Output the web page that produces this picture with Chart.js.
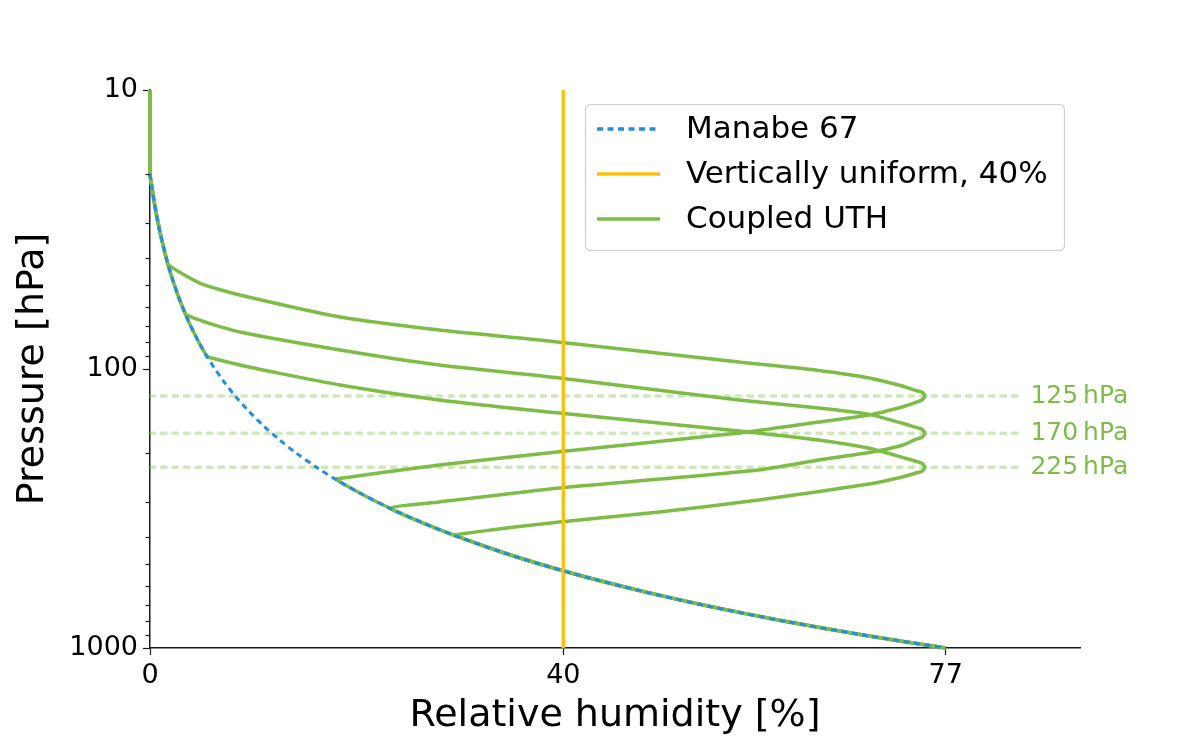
<!DOCTYPE html>
<html lang="en">
<head>
    <meta charset="UTF-8">
    <title>Relative humidity profiles</title>
    <script src="https://cdn.jsdelivr.net/npm/chart.js"></script>
    <style>
        html, body {
            margin: 0;
            padding: 0;
            background: #ffffff;
        }
        .chart-container {
            position: relative;
            width: 1200px;
            height: 741px;
        }
    </style>
</head>
<body>

<div class="chart-container">
    <canvas id="rhChart"></canvas>
</div>

<script>
    // Manabe 67 profile: pressure (hPa) and relative humidity (%)
    const manabeP  = [20, 22, 25, 28, 32, 36, 40, 45, 50, 56, 63, 70, 80, 90, 100, 112, 125, 140, 160, 180,
                      200, 225, 250, 280, 315, 355, 400, 450, 500, 560, 630, 710, 800, 900, 1000];
    const manabeRH = [0, 0.16, 0.39, 0.63, 0.94, 1.26, 1.57, 1.96, 2.36, 2.83, 3.38, 3.93, 4.71, 5.5, 6.29, 7.23, 8.25, 9.43, 11.0, 12.57,
                      14.14, 16.11, 18.07, 20.43, 23.18, 26.32, 29.86, 33.79, 37.71, 42.43, 47.93, 54.21, 61.29, 69.14, 77];

    // Coupled UTH: the part of each profile that leaves the Manabe curve
    const uth125P  = [42.4, 49.2, 54.3, 65.1, 72.5, 78.7, 94.4, 101.2, 107.7, 115.1, 119.4, 120.9, 125, 129.1, 131.8, 136.8, 146.2, 154.9, 169.6, 197.9, 220.8, 248];
    const uth125RH = [1.8, 4.8, 8.7, 18.4, 28.0, 37.7, 57.0, 64.7, 69.6, 72.8, 74.1, 74.7, 75.0, 74.7, 74.1, 72.8, 69.6, 64.7, 57.0, 39.6, 28.0, 18.0];

    const uth170P  = [64.0, 67.8, 73.7, 85.5, 96.8, 107.7, 129.1, 138.0, 145.4, 156.5, 161.8, 164.5, 170, 175.7, 178.6, 187.7, 198.4, 211.9, 230.0, 267.0, 299.7, 315];
    const uth170RH = [3.5, 5.3, 8.7, 18.4, 28.0, 39.6, 57.0, 64.7, 69.6, 72.8, 74.1, 74.7, 75.0, 74.7, 74.1, 72.8, 69.9, 64.7, 58.9, 39.6, 28.0, 23.3];

    const uth225P  = [90.6, 96.8, 102.5, 114.1, 129.1, 143.8, 166.8, 179.7, 192.4, 207.3, 214.2, 217.8, 225, 232.7, 236.0, 243.8, 258.4, 294.8, 325.4, 353.4, 393.6];
    const uth225RH = [5.6, 8.7, 11.9, 18.4, 28.0, 39.6, 57.0, 64.7, 69.6, 72.8, 74.1, 74.7, 75.0, 74.7, 74.1, 72.8, 69.6, 58.9, 49.3, 39.6, 29.4];

    const uniformRH = 40;
    const peakLevels = [125, 170, 225];
    const peakLabels = ['125\u2009hPa', '170\u2009hPa', '225\u2009hPa'];
    const refLineEnd = 84;     // RH where the dashed level lines stop
    const refLabelAt = 85.2;   // RH where the level labels start

    const xTicks = [0, 40, 77];
    const yMajor = [10, 100, 1000];
    const yMinor = [20, 30, 40, 50, 60, 70, 80, 90, 200, 300, 400, 500, 600, 700, 800, 900];

    const GREEN = '#7dbd45';
    const GREEN_LIGHT = 'rgba(125, 189, 69, 0.36)';
    const BLUE = '#1f8fe6';
    const YELLOW = '#ffc107';
    const FONT = "'DejaVu Sans', sans-serif";

    function toPoints(ps, rhs) {
        return ps.map((p, i) => ({ x: rhs[i], y: p }));
    }

    // full coupled profile = Manabe above and below the bulge
    function coupledProfile(ps, rhs) {
        const top = ps[0], bottom = ps[ps.length - 1];
        const pts = [{ x: 0, y: 10 }];
        manabeP.forEach((p, i) => { if (p < top) pts.push({ x: manabeRH[i], y: p }); });
        pts.push(...toPoints(ps, rhs));
        manabeP.forEach((p, i) => { if (p > bottom) pts.push({ x: manabeRH[i], y: p }); });
        return pts;
    }

    const greenLine = pts => ({
        data: pts, borderColor: GREEN, borderWidth: 3.5, pointRadius: 0, tension: 0.2, clip: false
    });

    const datasets = [
        {
            label: 'Manabe 67',
            data: toPoints(manabeP, manabeRH),
            borderColor: BLUE, borderWidth: 3, borderDash: [6, 4.5],
            pointRadius: 0, tension: 0.3, clip: false
        },
        {
            label: 'Vertically uniform, 40%',
            data: [{ x: uniformRH, y: 10 }, { x: uniformRH, y: 1000 }],
            borderColor: YELLOW, borderWidth: 3.5, pointRadius: 0, clip: false
        },
        greenLine(coupledProfile(uth125P, uth125RH)),
        greenLine(coupledProfile(uth170P, uth170RH)),
        greenLine(coupledProfile(uth225P, uth225RH))
    ];
    peakLevels.forEach(p => {
        datasets.push({
            data: [{ x: 0, y: p }, { x: refLineEnd, y: p }],
            borderColor: GREEN_LIGHT, borderWidth: 3.5, borderDash: [4.5, 7], borderCapStyle: 'round',
            pointRadius: 0, clip: false
        });
    });

    const legendItems = [
        { text: 'Manabe 67', color: BLUE, dash: [6, 4.5] },
        { text: 'Vertically uniform, 40%', color: YELLOW, dash: [] },
        { text: 'Coupled UTH', color: GREEN, dash: [] }
    ];

    // minor ticks, level labels and the legend box
    const extras = {
        id: 'extras',
        afterDraw(chart) {
            const ctx = chart.ctx;
            const xs = chart.scales.x, ys = chart.scales.y;
            ctx.save();

            ctx.strokeStyle = '#1a1a1a';
            ctx.lineWidth = 1.2;
            yMinor.forEach(v => {
                const py = Math.round(ys.getPixelForValue(v)) + 0.5;
                ctx.beginPath();
                ctx.moveTo(xs.left - 4.5, py);
                ctx.lineTo(xs.left, py);
                ctx.stroke();
            });

            ctx.fillStyle = GREEN;
            ctx.font = '25px ' + FONT;
            ctx.textBaseline = 'middle';
            ctx.textAlign = 'left';
            peakLevels.forEach((p, i) => {
                ctx.fillText(peakLabels[i], xs.getPixelForValue(refLabelAt), ys.getPixelForValue(p));
            });

            const bx = 585, by = 104, bw = 479, bh = 146;
            ctx.beginPath();
            ctx.roundRect(bx + 0.5, by + 0.5, bw, bh, 5);
            ctx.fillStyle = 'rgba(255,255,255,0.85)';
            ctx.fill();
            ctx.strokeStyle = '#d0d0d0';
            ctx.lineWidth = 1.2;
            ctx.stroke();

            ctx.font = '31px ' + FONT;
            legendItems.forEach((item, i) => {
                const ly = 129 + i * 45;
                ctx.beginPath();
                ctx.setLineDash(item.dash);
                ctx.strokeStyle = item.color;
                ctx.lineWidth = 3.5;
                ctx.moveTo(597, ly);
                ctx.lineTo(660, ly);
                ctx.stroke();
                ctx.setLineDash([]);
                ctx.fillStyle = '#000';
                ctx.fillText(item.text, 686, ly + 1);
            });
            ctx.restore();
        }
    };

    new Chart(document.getElementById('rhChart'), {
        type: 'line',
        data: { datasets: datasets },
        options: {
            responsive: true,
            maintainAspectRatio: false,
            animation: false,
            layout: { padding: { top: 90, right: 120, left: 0, bottom: 0 } },
            plugins: { legend: { display: false }, tooltip: { enabled: false } },
            scales: {
                x: {
                    type: 'linear',
                    min: 0,
                    max: 90,
                    afterBuildTicks: s => { s.ticks = xTicks.map(v => ({ value: v })); },
                    afterFit: s => { s.height = 93; },
                    grid: { drawOnChartArea: false, tickLength: 7, tickColor: '#1a1a1a', tickWidth: 1.2 },
                    border: { color: '#1a1a1a', width: 1.5 },
                    ticks: { color: '#000', font: { family: FONT, size: 27 }, padding: 5, maxRotation: 0 },
                    title: {
                        display: true, text: 'Relative humidity [%]', color: '#000',
                        font: { family: FONT, size: 38 }, padding: { top: 0, bottom: 2 }
                    }
                },
                y: {
                    type: 'logarithmic',
                    reverse: true,
                    min: 10,
                    max: 1000,
                    afterBuildTicks: s => { s.ticks = yMajor.map(v => ({ value: v, major: true })); },
                    afterFit: s => { s.width = 150; },
                    grid: { drawOnChartArea: false, tickLength: 7, tickColor: '#1a1a1a', tickWidth: 1.2 },
                    border: { color: '#1a1a1a', width: 1.5 },
                    ticks: {
                        color: '#000', font: { family: FONT, size: 27 }, padding: 5,
                        callback: v => String(v)
                    },
                    title: {
                        display: true, text: 'Pressure [hPa]', color: '#000',
                        font: { family: FONT, size: 38 }, padding: { top: 10, bottom: 0 }
                    }
                }
            }
        },
        plugins: [extras]
    });
</script>

</body>
</html>
